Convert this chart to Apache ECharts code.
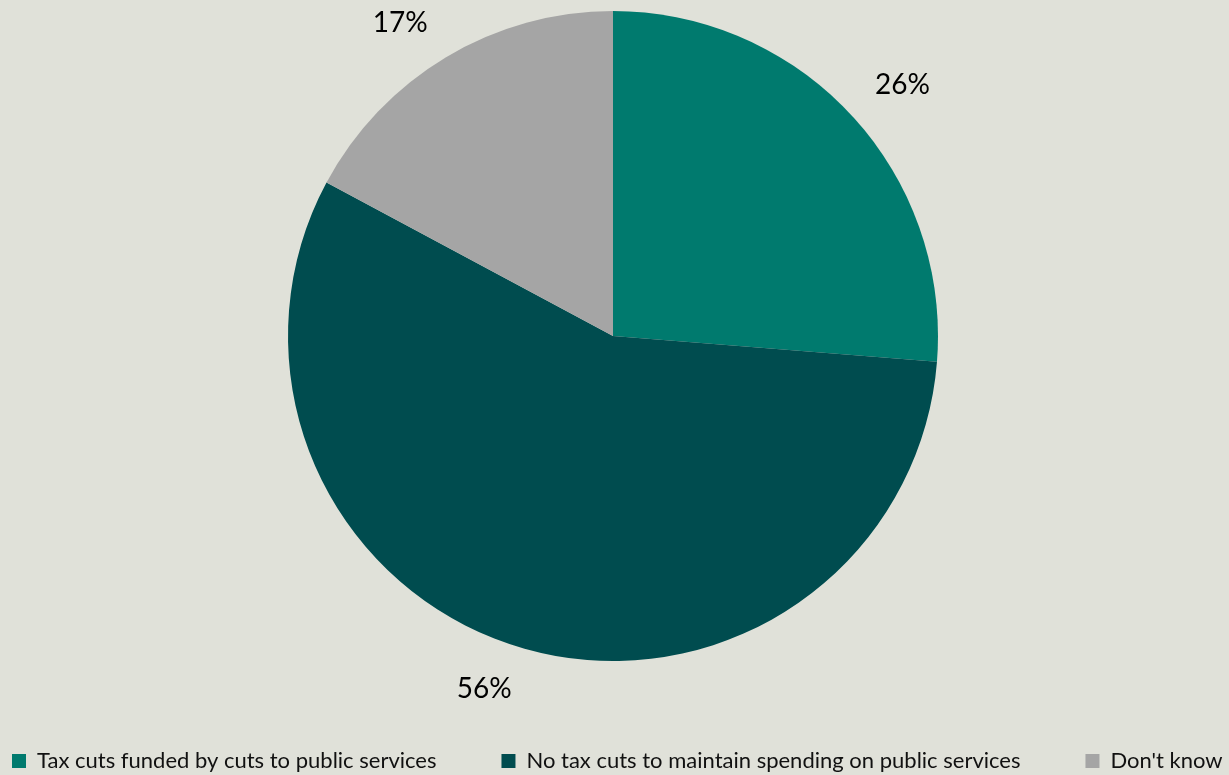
<!DOCTYPE html>
<html>
<head>
<meta charset="utf-8">
<script src="https://cdn.jsdelivr.net/npm/echarts@6/dist/echarts.min.js"></script>
<style>
html,body{margin:0;padding:0;background:#E0E1D9;}
#chart{width:1229px;height:775px;}
</style>
</head>
<body>
<div id="chart"></div>
<script>
const categories = ['Tax cuts funded by cuts to public services', 'No tax cuts to maintain spending on public services', "Don't know"];
const values = [26, 56, 17];
const colors = ['#007A6E', '#004C4F', '#A5A5A5'];
// label nudges (styling only), mimicking the original's label placement
const labelOffsets = [[11, 6], [-22, -11], [-18, 12]];

const pieData = categories.map((name, i) => ({ name: name, value: values[i], itemStyle: { color: colors[i] } }));
const labelData = categories.map((name, i) => ({ name: name, value: values[i], label: { offset: labelOffsets[i] } }));

const chart = echarts.init(document.getElementById('chart'));
chart.setOption({
  backgroundColor: '#E0E1D9',
  animation: false,
  legend: {
    data: categories,
    bottom: 3,
    left: 12,
    width: 1217,
    padding: [0, 0, 0, 0],
    itemWidth: 14,
    itemHeight: 14,
    itemGap: 65,
    icon: 'rect',
    textStyle: { fontFamily: 'Lato', fontSize: 22, color: '#111111', padding: [0, 0, 0, 6] }
  },
  series: [
    {
      type: 'pie',
      center: [613, 336],
      radius: [0, 325],
      startAngle: 90,
      clockwise: true,
      label: { show: false },
      labelLine: { show: false },
      itemStyle: { borderWidth: 0 },
      emphasis: { disabled: true },
      data: pieData
    },
    {
      type: 'pie',
      center: [613, 336],
      radius: [352, 400],
      startAngle: 90,
      clockwise: true,
      silent: true,
      legendHoverLink: false,
      itemStyle: { color: 'rgba(0,0,0,0)' },
      label: {
        show: true,
        position: 'inside',
        rotate: 0,
        formatter: function (p) { return p.value + '%'; },
        fontFamily: 'Lato',
        fontSize: 28,
        color: '#000000'
      },
      labelLine: { show: false },
      emphasis: { disabled: true },
      data: labelData
    }
  ]
});
</script>
</body>
</html>
